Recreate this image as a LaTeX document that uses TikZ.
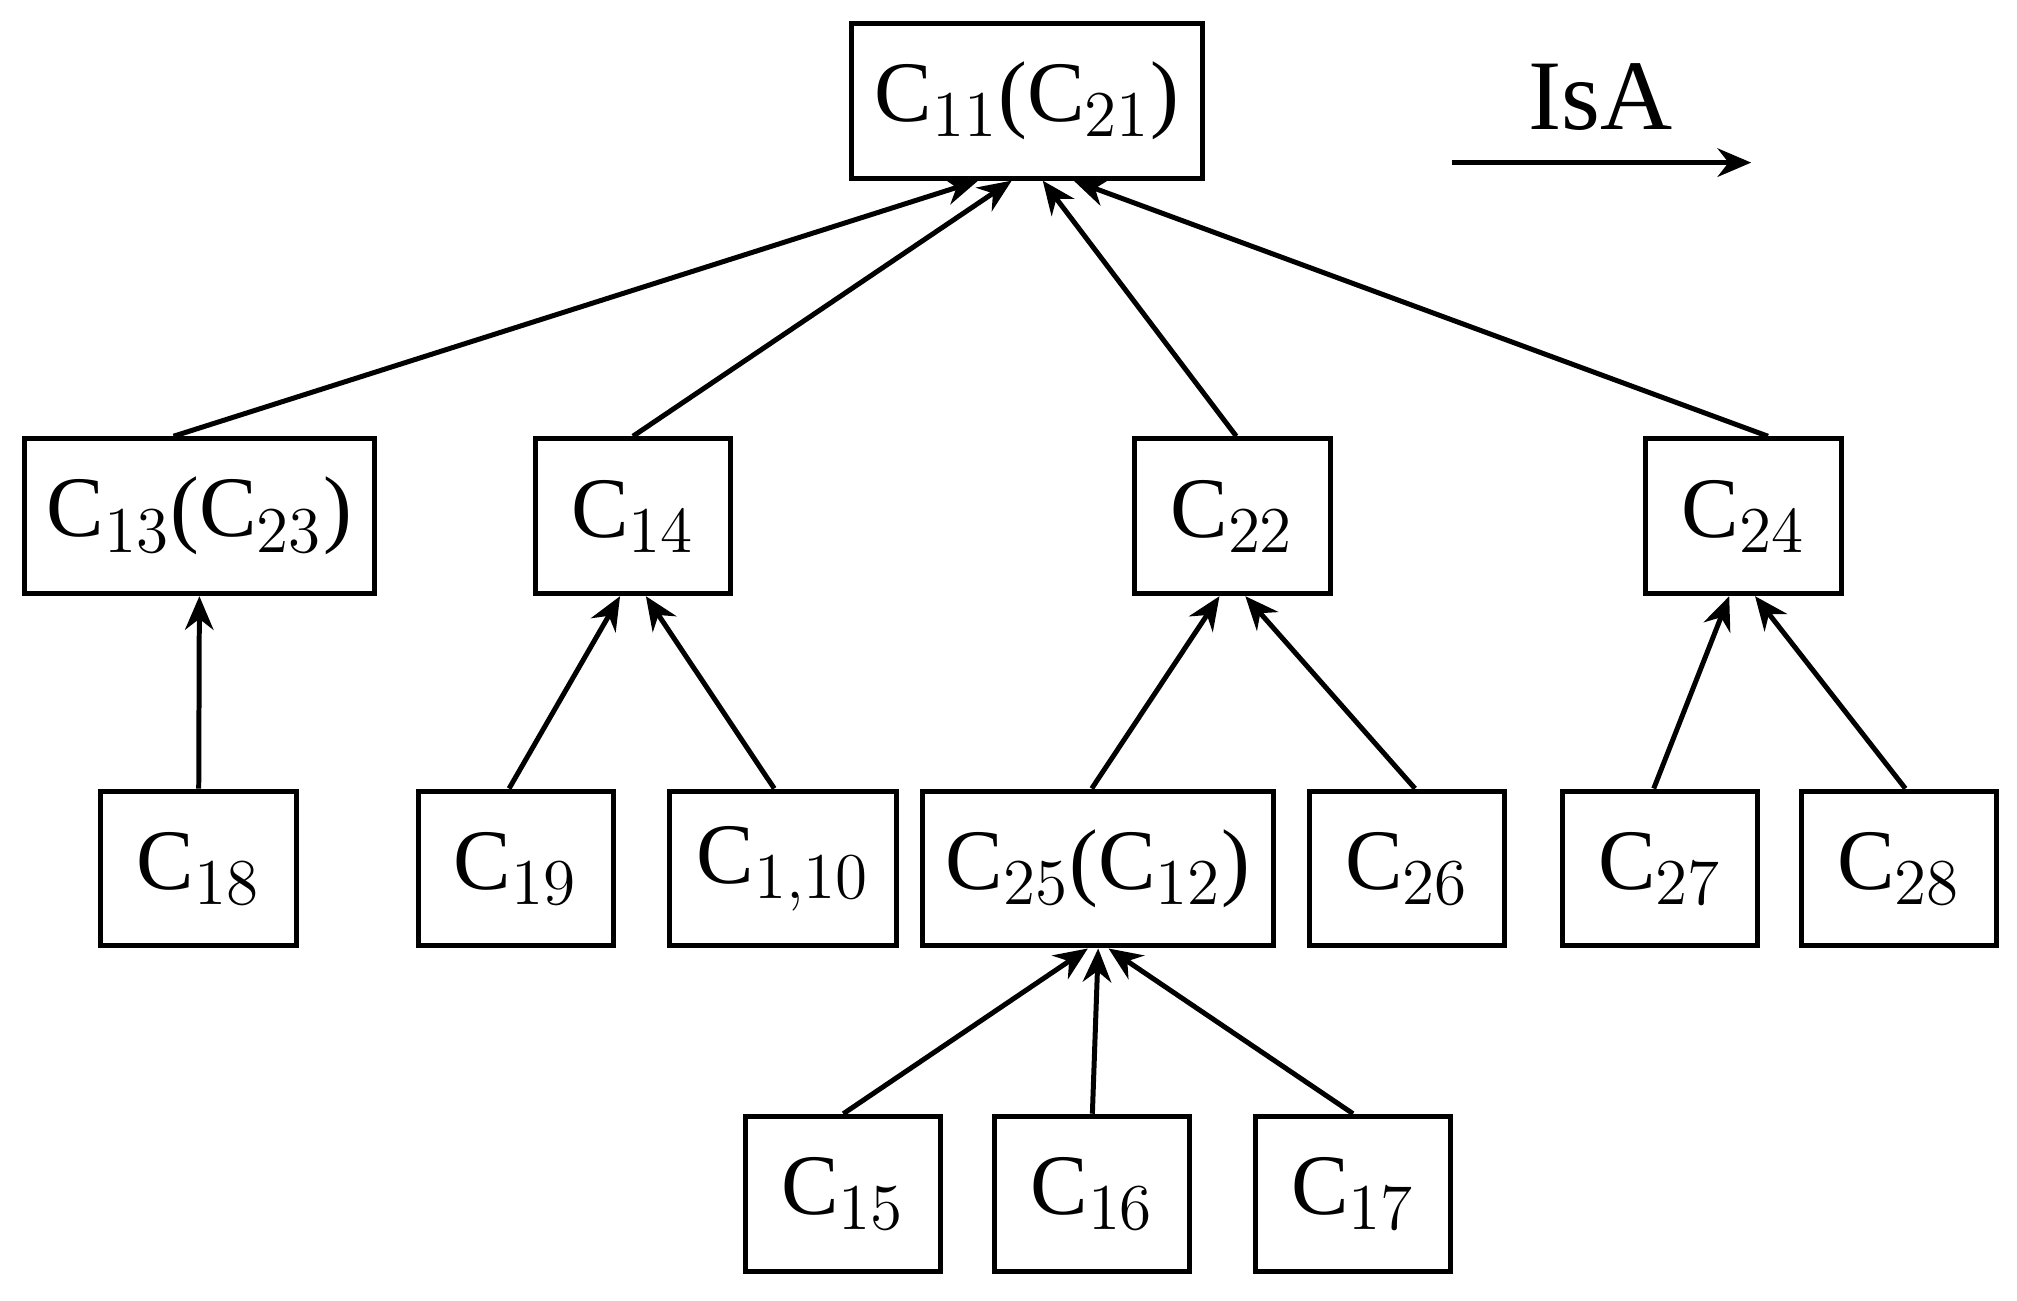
\documentclass[tikz,border=0pt]{standalone}
\usepackage{fontspec}
\setmainfont{Liberation Serif}
\usetikzlibrary{arrows.meta}

\begin{document}
\begin{tikzpicture}[x=0.01cm, y=-0.01cm, >={Stealth[length=2.6mm,width=2.2mm]},
    concept/.style={draw, line width=1.1pt, minimum height=1.2cm, inner sep=0pt,
      font=\fontsize{19}{22}\selectfont},
    isa/.style={->, line width=1.1pt}
  ]
    \useasboundingbox (0,0) rectangle (1563,1008);

    % top level
    \node[concept, minimum width=2.72cm] (c11) at (796,78) {C$_{11}$(C$_{21}$)};

    % second level
    \node[concept, minimum width=2.71cm] (c13) at (154.5,400) {C$_{13}$(C$_{23}$)};
    \node[concept, minimum width=1.51cm] (c14) at (490.5,400) {C$_{14}$};
    \node[concept, minimum width=1.52cm] (c22) at (955,400) {C$_{22}$};
    \node[concept, minimum width=1.52cm] (c24) at (1351,400) {C$_{24}$};

    % third level
    \node[concept, minimum width=1.52cm] (c18) at (154,673) {C$_{18}$};
    \node[concept, minimum width=1.51cm] (c19) at (399.5,673) {C$_{19}$};
    \node[concept, minimum width=1.76cm] (c110) at (607,673) {C$_{1,10}$};
    \node[concept, minimum width=2.72cm] (c25) at (851,673) {C$_{25}$(C$_{12}$)};
    \node[concept, minimum width=1.51cm] (c26) at (1090.5,673) {C$_{26}$};
    \node[concept, minimum width=1.51cm] (c27) at (1286.5,673) {C$_{27}$};
    \node[concept, minimum width=1.51cm] (c28) at (1471.5,673) {C$_{28}$};

    % fourth level
    \node[concept, minimum width=1.51cm] (c15) at (653.5,925) {C$_{15}$};
    \node[concept, minimum width=1.51cm] (c16) at (846.5,925) {C$_{16}$};
    \node[concept, minimum width=1.51cm] (c17) at (1048.5,925) {C$_{17}$};

    % legend
    \node[font=\fontsize{22}{26}\selectfont] (isa) at (1240,75) {IsA};
    \coordinate (lgA) at (1125,126);
    \coordinate (lgB) at (1357,126);
    \draw[isa] (lgA) -- (lgB);

    % IsA links
    \draw[isa] ([xshift=-0.2cm]c13.north) -- ([xshift=-0.38cm]c11.south);
    \draw[isa] (c14.north) -- ([xshift=-0.12cm]c11.south);
    \draw[isa] ([xshift=0.03cm]c22.north) -- ([xshift=0.12cm]c11.south);
    \draw[isa] ([xshift=0.19cm]c24.north) -- ([xshift=0.36cm]c11.south);

    \draw[isa] (c18.north) -- (c13.south);
    \draw[isa] ([xshift=-0.05cm]c19.north) -- ([xshift=-0.1cm]c14.south);
    \draw[isa] ([xshift=-0.07cm]c110.north) -- ([xshift=0.1cm]c14.south);
    \draw[isa] ([xshift=-0.05cm]c25.north) -- ([xshift=-0.1cm]c22.south);
    \draw[isa] ([xshift=0.06cm]c26.north) -- ([xshift=0.1cm]c22.south);
    \draw[isa] ([xshift=-0.05cm]c27.north) -- ([xshift=-0.11cm]c24.south);
    \draw[isa] ([xshift=0.05cm]c28.north) -- ([xshift=0.09cm]c24.south);

    \draw[isa] (c15.north) -- ([xshift=-0.08cm]c25.south);
    \draw[isa] (c16.north) -- ([xshift=0.0cm]c25.south);
    \draw[isa] (c17.north) -- ([xshift=0.08cm]c25.south);
\end{tikzpicture}
\end{document}
